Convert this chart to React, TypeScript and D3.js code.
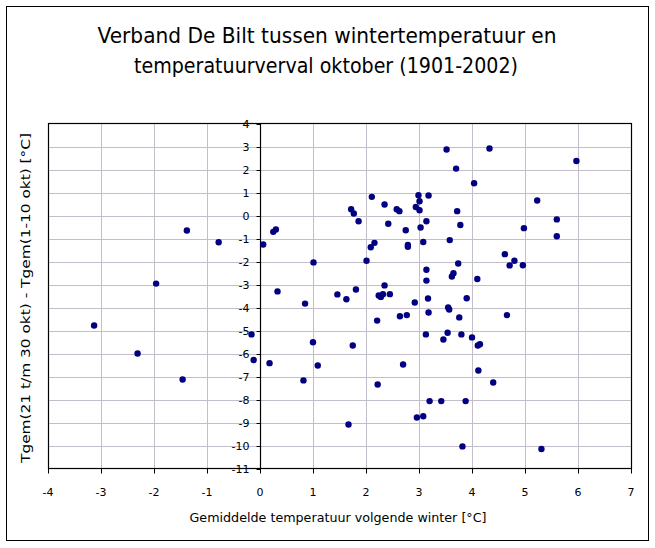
import React from "react";
import * as d3 from "d3";

const winterTemp: number[] = [
  -1.38, -0.78, -1.96, 0.06, 0.25, 0.3, 1.01, 0.33,
  -3.13, -2.31, -1.46, -0.16, -0.12, 0.18, 0.82, 1.0, 1.09, 0.85,
  3.52, 4.33, 5.97, 3.7, 4.04, 2.11, 2.99, 3.18, 3.01, 2.35,
  2.94, 3.01, 2.58, 2.63, 1.72, 1.77, 3.72, 5.23, 1.86, 3.14,
  2.42, 3.78, 5.6, 4.98, 3.03, 2.75, 5.6, 3.58, 3.08, 2.16,
  2.09, 2.79, 2.79, 4.62, 4.8, 4.71, 4.96, 2.01, 3.74, 3.14,
  3.65, 3.62, 4.1, 3.14, 2.35, 1.81, 1.46, 1.63, 2.24, 2.32,
  2.28, 2.45, 3.17, 3.9, 2.92, 3.18, 3.55, 3.57, 2.64, 2.77,
  3.76, 4.66, 2.21, 3.13, 3.54, 3.8, 4.0, 3.46, 4.11, 4.15,
  1.75, 2.7, 4.12, 4.4, 2.22, 3.2, 3.42, 3.88, 2.96, 3.08,
  1.67, 3.82, 5.31,
];

const octoberDrop: number[] = [
  -0.65, -1.16, -2.96, -1.26, -0.71, -0.61, -2.04, -3.3,
  -4.78, -6.0, -7.13, -5.17, -6.28, -6.42, -7.17, -5.51, -6.52, -3.83,
  2.87, 2.91, 2.37, 2.04, 1.4, 0.81, 0.88, 0.87, 0.62, 0.48,
  0.37, 0.23, 0.27, 0.19, 0.27, 0.09, 0.19, 0.65, -0.25, -0.25,
  -0.36, -0.41, -0.17, -0.55, -0.52, -0.64, -0.9, -1.07, -1.15, -1.19,
  -1.38, -1.28, -1.36, -1.68, -1.97, -2.17, -2.16, -1.97, -2.09, -2.36,
  -2.51, -2.65, -2.76, -2.83, -3.04, -3.22, -3.43, -3.64, -3.48, -3.42,
  -3.54, -3.42, -3.61, -3.6, -3.78, -4.22, -4.0, -4.09, -4.38, -4.33,
  -4.43, -4.33, -4.57, -5.17, -5.1, -5.17, -5.3, -5.39, -5.65, -5.6,
  -5.65, -6.48, -6.74, -7.26, -7.35, -8.07, -8.07, -8.07, -8.78, -8.73,
  -9.09, -10.04, -10.15,
];

const xTicks: number[] = d3.range(-4, 8);
const yTicks: number[] = d3.range(-11, 5);

const titleLines: string[] = [
  "Verband De Bilt tussen wintertemperatuur en",
  "temperatuurverval oktober (1901-2002)",
];
const xTitle = "Gemiddelde temperatuur volgende winter [°C]";
const yTitle = "Tgem(21 t/m 30 okt) - Tgem(1-10 okt) [°C]";

export default function App() {
  const W = 655;
  const H = 548;
  const left = 48;
  const right = 631;
  const top = 123.5;
  const bottom = 468.5;
  const x = d3.scaleLinear().domain([-4, 7]).range([left, right]);
  const y = d3.scaleLinear().domain([-11, 4]).range([bottom, top]);
  const font = "'DejaVu Sans', Tahoma, sans-serif";
  const x0 = Math.round(x(0)) + 0.5;
  const gridColor = "#c4bdca";

  return (
    <svg
      width={W}
      height={H}
      style={{ position: "absolute", left: 0, top: 0, background: "#fff" }}
      fontFamily={font}
    >
      <rect x={0} y={0} width={W} height={H} fill="#fff" />
      <rect x={6.5} y={6.5} width={642} height={534} fill="none" stroke="#000" strokeWidth={1} />

      {/* title */}
      <text x={327} y={43} textAnchor="middle" fontSize={21} textLength={459} lengthAdjust="spacingAndGlyphs" fill="#000">
        {titleLines[0]}
      </text>
      <text x={326} y={73} textAnchor="middle" fontSize={21} textLength={384} lengthAdjust="spacingAndGlyphs" fill="#000">
        {titleLines[1]}
      </text>

      {/* grid */}
      {xTicks.filter((t) => t > -4 && t < 7 && t !== 0).map((t) => (
        <line key={"gx" + t} x1={Math.round(x(t)) + 0.5} x2={Math.round(x(t)) + 0.5} y1={top} y2={bottom} stroke={gridColor} strokeWidth={1} />
      ))}
      {yTicks.filter((t) => t > -11 && t < 4).map((t) => (
        <line key={"gy" + t} x1={left} x2={right} y1={Math.round(y(t)) + 0.5} y2={Math.round(y(t)) + 0.5} stroke={gridColor} strokeWidth={1} />
      ))}

      {/* plot border */}
      <rect x={left + 0.5} y={top} width={right - left} height={bottom - top} fill="none" stroke="#000" strokeWidth={1.2} />

      {/* y axis at x=0 */}
      <line x1={x0} x2={x0} y1={top} y2={bottom} stroke="#000" strokeWidth={1.2} />
      {yTicks.map((t) => (
        <g key={"yt" + t}>
          <line x1={x0 - 4} x2={x0} y1={Math.round(y(t)) + 0.5} y2={Math.round(y(t)) + 0.5} stroke="#000" />
          <text x={x0 - 11} y={y(t) + 4} textAnchor="end" fontSize={11} fill="#000">
            {t}
          </text>
        </g>
      ))}

      {/* x axis at y=-11 */}
      <line x1={left} x2={right} y1={bottom} y2={bottom} stroke="#000" strokeWidth={1.2} />
      {xTicks.map((t) => (
        <g key={"xt" + t}>
          <line x1={Math.round(x(t)) + 0.5} x2={Math.round(x(t)) + 0.5} y1={bottom} y2={bottom + 5} stroke="#000" />
          <text x={x(t)} y={496} textAnchor="middle" fontSize={11} fill="#000">
            {t}
          </text>
        </g>
      ))}

      {/* axis titles */}
      <text x={338} y={522} textAnchor="middle" fontSize={13} textLength={297} lengthAdjust="spacingAndGlyphs" fill="#000">
        {xTitle}
      </text>
      <text
        transform={`translate(30,298) rotate(-90)`}
        textAnchor="middle"
        fontSize={13}
        textLength={330}
        lengthAdjust="spacingAndGlyphs"
        fill="#000"
      >
        {yTitle}
      </text>

      {/* points */}
      {winterTemp.map((v, i) => (
        <circle key={"p" + i} cx={x(v)} cy={y(octoberDrop[i])} r={3.2} fill="#000080" />
      ))}
    </svg>
  );
}
